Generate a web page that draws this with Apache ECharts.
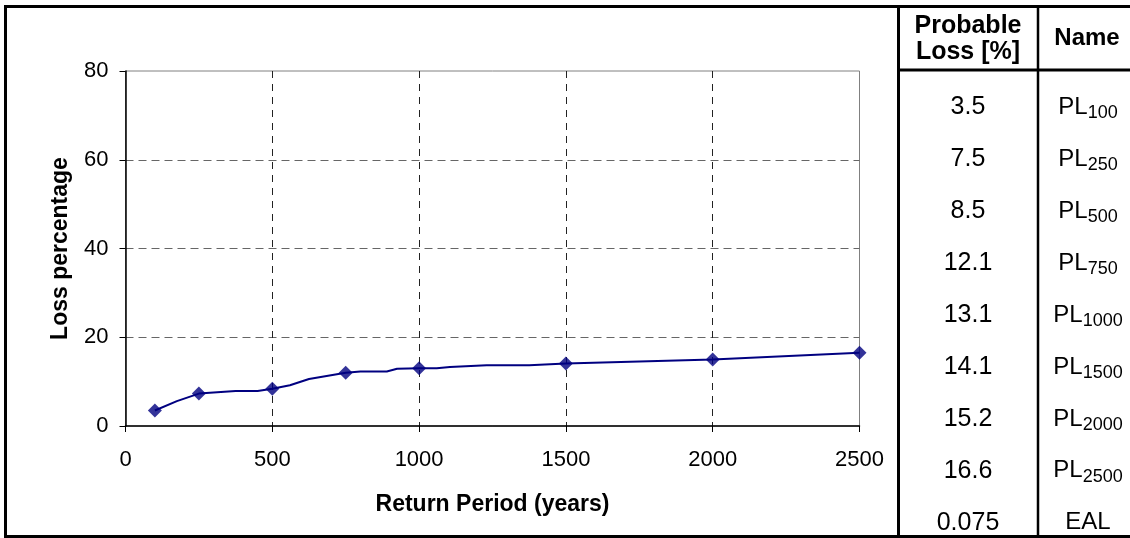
<!DOCTYPE html>
<html>
<head>
<meta charset="utf-8">
<script src="https://cdn.jsdelivr.net/npm/echarts@6/dist/echarts.min.js"></script>
<style>
html,body{margin:0;padding:0;background:#fff;}
#c{width:1130px;height:538px;}
</style>
</head>
<body>
<div id="c"></div>
<script>
// Curve (all vertices) and marked return periods
const rpAll   = [100, 175, 250, 375, 450, 500, 560, 625, 750, 800, 890, 925, 1000, 1060, 1105, 1230, 1375, 1500, 2000, 2500];
const lossAll = [3.5, 5.6, 7.3, 7.9, 7.9, 8.4, 9.2, 10.6, 12.0, 12.3, 12.3, 12.9, 13.0, 13.0, 13.3, 13.7, 13.7, 14.1, 15.0, 16.5];
const rpMarked   = [100, 250, 500, 750, 1000, 1500, 2000, 2500];
const lossMarked = [3.5, 7.3, 8.4, 12.0, 13.0, 14.1, 15.0, 16.5];

// Side table
const tableHeader = ['Probable\nLoss [%]', 'Name'];
const tableValues = ['3.5', '7.5', '8.5', '12.1', '13.1', '14.1', '15.2', '16.6', '0.075'];
const tableNames  = [['PL','100'], ['PL','250'], ['PL','500'], ['PL','750'], ['PL','1000'], ['PL','1500'], ['PL','2000'], ['PL','2500'], ['EAL','']];

const FONT = '"Liberation Sans", Arial, sans-serif';
const mctx = document.createElement('canvas').getContext('2d');
function textW(t, font){ mctx.font = font; return mctx.measureText(t).width; }

const chart = echarts.init(document.getElementById('c'), null, {renderer: 'canvas'});

const graphics = [];
// outer frame
graphics.push({type:'rect', shape:{x:5.5, y:6.5, width:1130, height:530}, style:{fill:'none', stroke:'#000', lineWidth:3}, z:10});
// table lines
graphics.push({type:'line', shape:{x1:898.5, y1:5, x2:898.5, y2:538}, style:{stroke:'#000', lineWidth:3}, z:10});
graphics.push({type:'line', shape:{x1:1038, y1:5, x2:1038, y2:538}, style:{stroke:'#000', lineWidth:2.5}, z:10});
graphics.push({type:'line', shape:{x1:898, y1:70, x2:1131, y2:70}, style:{stroke:'#000', lineWidth:3}, z:10});
// header
graphics.push({type:'text', x:968, y:39, z:10, style:{text:tableHeader[0], font:'bold 25px ' + FONT, fill:'#000', align:'center', verticalAlign:'middle', lineHeight:26}});
graphics.push({type:'text', x:1087, y:38, z:10, style:{text:tableHeader[1], font:'bold 24px ' + FONT, fill:'#000', align:'center', verticalAlign:'middle'}});
// rows
const row0 = 107.5, rowStep = 51.9;
const mainFont = '24px ' + FONT, subFont = '18px ' + FONT;
tableValues.forEach(function(v, i){
  const y = row0 + i * rowStep;
  graphics.push({type:'text', x: 968, y: y, z:10,
    style:{text:v, font:'25px ' + FONT, fill:'#000', align:'center', verticalAlign:'middle'}});
  const nm = tableNames[i];
  if (nm[1]) {
    const w1 = textW(nm[0], mainFont), w2 = textW(nm[1], subFont);
    const left = 1088 - (w1 + w2) / 2;
    graphics.push({type:'text', x:left, y:y, z:10, style:{text:nm[0], font:mainFont, fill:'#000', align:'left', verticalAlign:'middle'}});
    graphics.push({type:'text', x:left + w1, y:y + 6, z:10, style:{text:nm[1], font:subFont, fill:'#000', align:'left', verticalAlign:'middle'}});
  } else {
    graphics.push({type:'text', x:1088, y:y, z:10, style:{text:nm[0], font:mainFont, fill:'#000', align:'center', verticalAlign:'middle'}});
  }
});

const option = {
  backgroundColor: '#fff',
  animation: false,
  grid: {left: 125.5, right: 270.5, top: 71, bottom: 112, show: true, borderColor: '#808080', borderWidth: 1, backgroundColor: 'transparent'},
  xAxis: {
    type: 'value', min: 0, max: 2500, interval: 500,
    name: 'Return Period (years)', nameLocation: 'middle', nameGap: 67,
    nameTextStyle: {fontFamily: FONT, fontWeight: 'bold', fontSize: 23, color: '#000'},
    axisLine: {show: true, lineStyle: {color: '#000', width: 1.5}},
    axisTick: {show: true, length: 6, lineStyle: {color: '#000'}},
    axisLabel: {fontFamily: FONT, fontSize: 22, color: '#000', margin: 23, formatter: function(v){ return String(v); }},
    splitLine: {show: true, showMinLine: false, showMaxLine: false, lineStyle: {color: '#222', type: [7, 6], width: 1}}
  },
  yAxis: {
    type: 'value', min: 0, max: 80, interval: 20,
    name: 'Loss percentage', nameLocation: 'middle', nameGap: 53, nameRotate: 90,
    nameTextStyle: {fontFamily: FONT, fontWeight: 'bold', fontSize: 23, color: '#000'},
    axisLine: {show: true, lineStyle: {color: '#000', width: 1.5}},
    axisTick: {show: true, length: 6, lineStyle: {color: '#000'}},
    axisLabel: {fontFamily: FONT, fontSize: 22, color: '#000', margin: 17},
    splitLine: {show: true, showMinLine: false, showMaxLine: false, lineStyle: {color: '#666', type: [8, 5], width: 1}}
  },
  series: [
    {type: 'line', data: rpAll.map(function(x, i){ return [x, lossAll[i]]; }), showSymbol: false, symbol: 'none',
     lineStyle: {color: '#000080', width: 2}, z: 3},
    {type: 'scatter', data: rpMarked.map(function(x, i){ return [x, lossMarked[i]]; }), symbol: 'diamond', symbolSize: 14,
     itemStyle: {color: '#000080'}, z: 4}
  ],
  graphic: graphics
};
chart.setOption(option);
</script>
</body>
</html>
